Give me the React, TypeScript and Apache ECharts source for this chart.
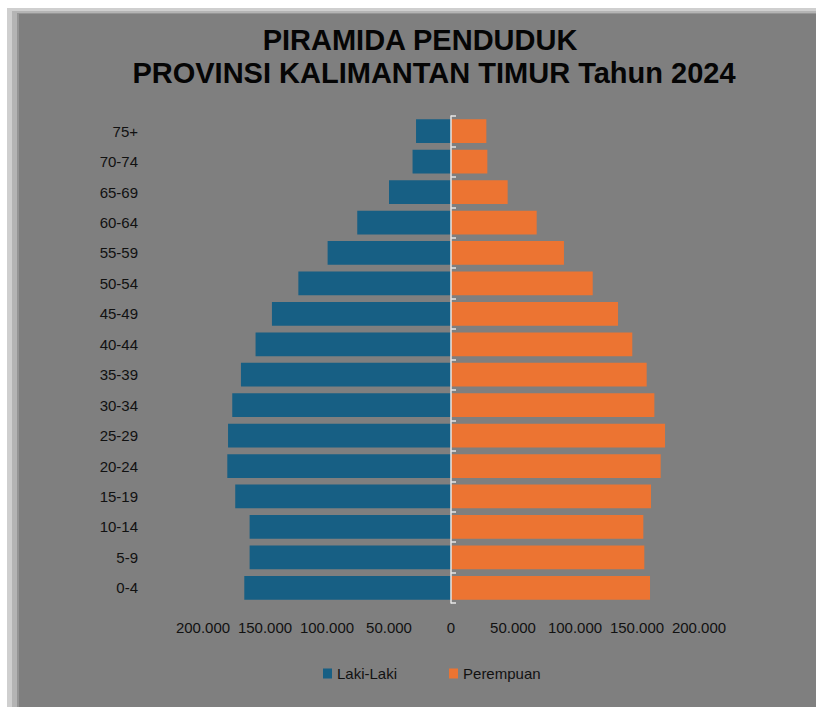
import React, { useEffect, useRef } from "react";
import * as echarts from "echarts";

const categories = ["0-4", "5-9", "10-14", "15-19", "20-24", "25-29", "30-34", "35-39", "40-44", "45-49", "50-54", "55-59", "60-64", "65-69", "70-74", "75+"];
const lakiLaki = [166700, 162400, 162400, 174000, 180400, 179800, 176400, 169400, 157600, 144400, 123100, 99500, 75600, 50000, 31000, 28200];
const perempuan = [160500, 155900, 155100, 161300, 169100, 172600, 164000, 157800, 146200, 134700, 114300, 91100, 69100, 45700, 29300, 28500];
const titleLines = ["PIRAMIDA PENDUDUK", "PROVINSI KALIMANTAN TIMUR Tahun 2024"];
const seriesNames = ["Laki-Laki", "Perempuan"];

const fmt = (v: number) => String(Math.abs(v)).replace(/\B(?=(\d{3})+(?!\d))/g, ".");

export default function App() {
  const ref = useRef<HTMLDivElement>(null);
  useEffect(() => {
    if (!ref.current) return;
    const chart = echarts.init(ref.current, null, { renderer: "svg" });
    const font = "'Liberation Sans', Arial, sans-serif";
    chart.setOption({
      animation: false,
      backgroundColor: "#ffffff",
      textStyle: { fontFamily: font },
      graphic: [
        { type: "rect", shape: { x: 7, y: 8, width: 820, height: 710 }, style: { fill: "#cfcfcf" }, z: -10 },
        { type: "rect", shape: { x: 12, y: 11, width: 820, height: 710 }, style: { fill: "#b4b4b4" }, z: -9 },
        { type: "rect", shape: { x: 17, y: 13, width: 820, height: 710 }, style: { fill: "#959595" }, z: -8 },
        { type: "rect", shape: { x: 19, y: 14, width: 820, height: 710 }, style: { fill: "#7f7f7f" }, z: -7 },
        {
          type: "text", x: 420, y: 40, z: 10,
          style: { text: titleLines[0], fontFamily: font, fontSize: 29, fontWeight: "bold", fill: "#050505", textAlign: "center", textVerticalAlign: "middle" },
        },
        {
          type: "text", x: 434, y: 73, z: 10,
          style: { text: titleLines[1], fontFamily: font, fontSize: 29, fontWeight: "bold", fill: "#050505", textAlign: "center", textVerticalAlign: "middle" },
        },
      ],
      grid: { left: 203, right: 117, top: 116, bottom: 104, containLabel: false },
      legend: {
        data: seriesNames,
        left: 318,
        top: 661,
        icon: "rect",
        itemWidth: 9,
        itemHeight: 10,
        itemGap: 52,
        textStyle: { fontSize: 15, color: "#111111", fontFamily: font },
      },
      xAxis: {
        type: "value",
        min: -200000,
        max: 200000,
        interval: 50000,
        axisLine: { show: false, onZero: false },
        axisTick: { show: false },
        splitLine: { show: false },
        axisLabel: { formatter: fmt, fontSize: 15, color: "#111111", margin: 17, fontFamily: font },
      },
      yAxis: [
        {
          type: "category",
          data: categories,
          position: "left",
          axisLine: { show: false, onZero: false },
          axisTick: { show: false },
          axisLabel: { fontSize: 15, color: "#111111", margin: 65, fontFamily: font },
        },
        {
          type: "category",
          data: categories,
          position: "right",
          z: 5,
          axisLine: { show: true, onZero: true, onZeroAxisIndex: 0, lineStyle: { color: "#e6e6e6", width: 1.5 } },
          axisTick: { show: true, length: 5, lineStyle: { color: "#e6e6e6", width: 1.5 } },
          axisLabel: { show: false },
        },
      ],
      series: [
        {
          name: seriesNames[0],
          type: "bar",
          stack: "pop",
          yAxisIndex: 0,
          barCategoryGap: "22%",
          data: lakiLaki.map((v) => -v),
          itemStyle: { color: "#175f84" },
          z: 2,
        },
        {
          name: seriesNames[1],
          type: "bar",
          stack: "pop",
          yAxisIndex: 0,
          barCategoryGap: "22%",
          data: perempuan,
          itemStyle: { color: "#ec7432" },
          z: 2,
        },
      ],
    });
    return () => chart.dispose();
  }, []);
  return <div ref={ref} style={{ position: "fixed", left: 0, top: 0, width: 816, height: 707 }} />;
}
